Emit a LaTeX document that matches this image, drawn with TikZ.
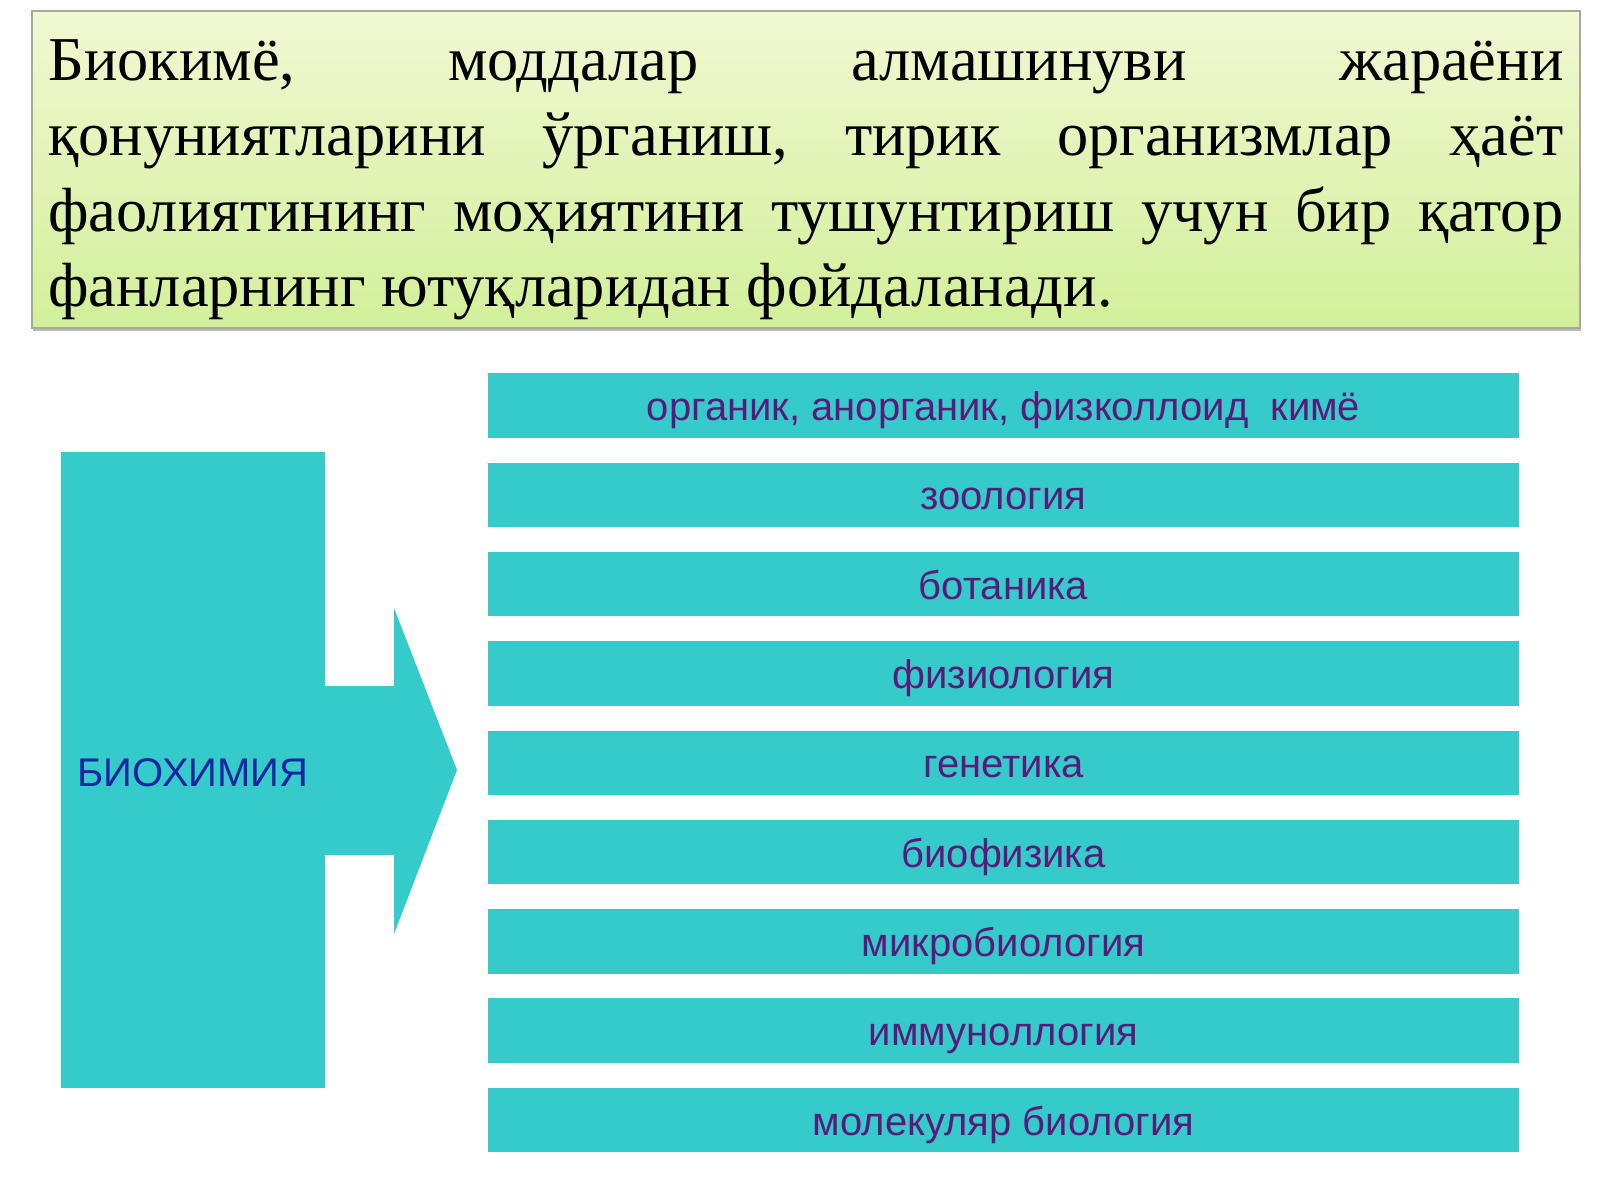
\documentclass[tikz,border=0pt]{standalone}
\usepackage{fontspec}
\setmainfont{Liberation Serif}
\newfontfamily\barfont{Liberation Sans}
\usetikzlibrary{shadows}
\definecolor{turq}{HTML}{35CBCB}
\definecolor{bartext}{HTML}{5A1A7C}
\definecolor{biotext}{HTML}{1A26A0}
\definecolor{boxtop}{HTML}{F1F8D2}
\definecolor{boxbot}{HTML}{D2F09A}
\definecolor{boxline}{HTML}{A8AA98}
\tikzset{
  introbox/.style={draw=boxline, line width=0.8pt, top color=boxtop, bottom color=boxbot,
    drop shadow={shadow xshift=0.8pt, shadow yshift=-1.6pt, fill=black!45, opacity=0.6}},
  introline/.style={anchor=base west, inner sep=0pt, font=\fontsize{31.2}{37.75}\selectfont, text=black},
  barbox/.style={fill=turq, draw=none, minimum width=515.5pt, minimum height=32.25pt,
    inner sep=0pt, text=bartext, font=\barfont\fontsize{20}{24}\selectfont,
    text height=15pt, text depth=0pt},
  biobox/.style={fill=turq, draw=none, minimum width=132pt, minimum height=318pt,
    inner sep=0pt, text=biotext, font=\barfont\fontsize{20}{24}\selectfont,
    text height=16.5pt, text depth=0pt}
}
\begin{document}
\begin{tikzpicture}[x=0.5pt,y=-0.5pt]
\useasboundingbox (0,0) rectangle (1600,1200);
\fill[white] (0,0) rectangle (1600,1200);
% intro box
\node[introbox, anchor=north west, minimum width=774pt, minimum height=158.5pt, inner sep=0pt] (intro) at (31,10) {};
\node[introline] (l1) at (48,80) {\hbox to 757.5pt{Биокимё,\hfill моддалар\hfill алмашинуви\hfill жараёни}};
\node[introline] (l2) at (48,155.5) {\hbox to 757.5pt{қонуниятларини\hfill ўрганиш,\hfill тирик\hfill организмлар\hfill ҳаёт}};
\node[introline] (l3) at (48,231) {\hbox to 757.5pt{фаолиятининг\hfill моҳиятини\hfill тушунтириш\hfill учун\hfill бир\hfill қатор}};
\node[introline] (l4) at (48,306.5) {фанларнинг ютуқларидан фойдаланади.};
% left shape with arrow
\node[biobox] (bio) at (193,770) {БИОХИМИЯ};
\fill[turq] (324,686) -- (394,686) -- (394,608) -- (457,770) -- (394,934) -- (394,855) -- (324,855) -- cycle;
% bars
\foreach \i/\t in {1/{органик, анорганик, физколлоид\ \ кимё},
                   2/зоология, 3/ботаника, 4/физиология, 5/генетика,
                   6/биофизика, 7/микробиология, 8/иммуноллогия, 9/молекуляр биология}{
  \node[barbox] (b\i) at (1003.5,{405.6+89.3*(\i-1)}) {\t};
}
\end{tikzpicture}
\end{document}
